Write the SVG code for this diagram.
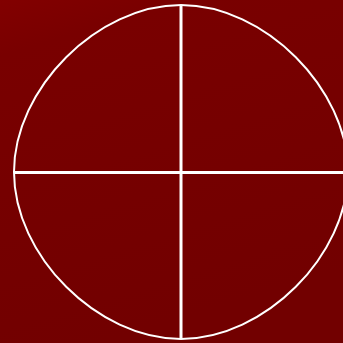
<svg xmlns="http://www.w3.org/2000/svg" width="343" height="343" viewBox="0 0 343 343">
<defs>
<linearGradient id="bg" x1="0" y1="0" x2="0.3" y2="1">
<stop offset="0" stop-color="#820000"/>
<stop offset="0.15" stop-color="#790000"/>
<stop offset="1" stop-color="#720000"/>
</linearGradient>
<style>
.ln{stroke:#ffffff;fill:none}
</style>
</defs>
<rect width="343" height="343" fill="url(#bg)"/>
<g id="circle"><path class="ln" stroke-width="2" d="M181,5 C264.5,5 348,88.5 348,172 C348,255.5 264.5,339 181,339 C97.5,339 14,255.5 14,172 C14,88.5 97.5,5 181,5 Z"/></g>
<g id="connectors">
<line class="ln" x1="181" y1="5" x2="181" y2="339" stroke-width="3"/>
<line class="ln" x1="14" y1="172.5" x2="343" y2="172.5" stroke-width="3"/>
</g>
</svg>
